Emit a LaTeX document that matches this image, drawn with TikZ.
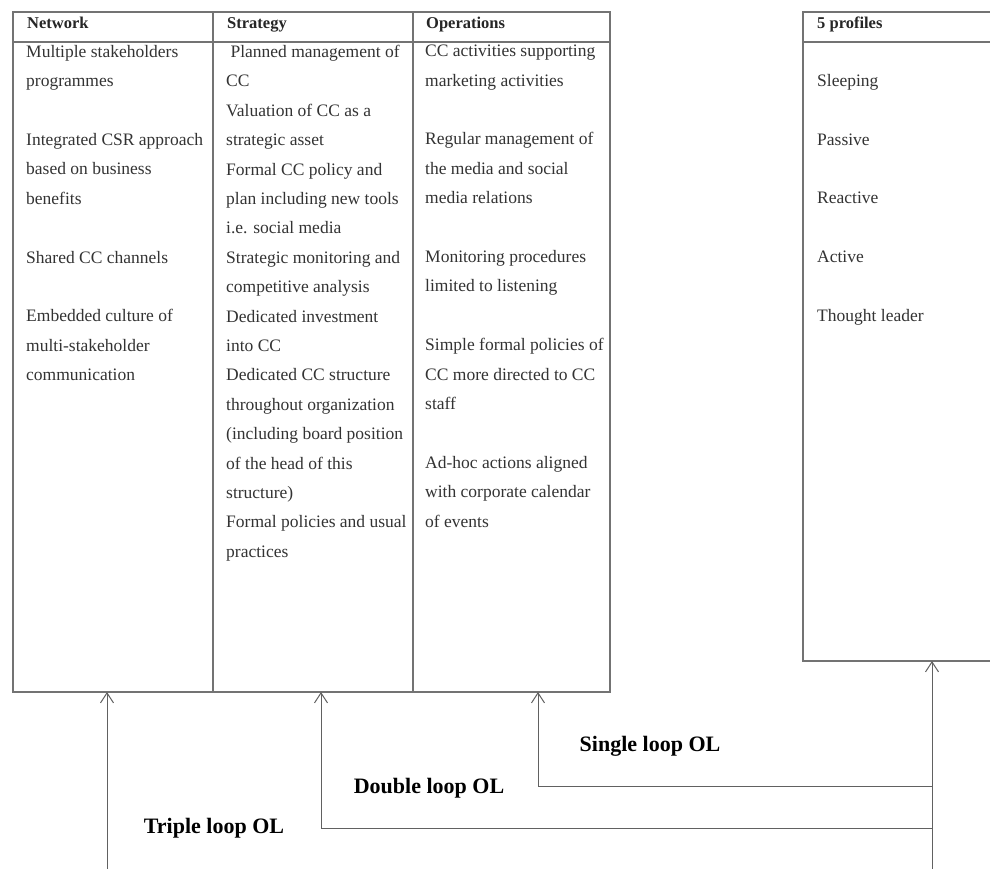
\documentclass[tikz,border=0pt]{standalone}
\usepackage{fontspec}
\setmainfont{Liberation Serif}
\usetikzlibrary{arrows.meta}

\begin{document}
\begin{tikzpicture}[x=1pt,y=-1pt,
  frame/.style={draw=black!55, line width=1.4pt},
  cell/.style={inner sep=0pt, outer sep=0pt, anchor=north west},
  body/.style={anchor=north west, inner sep=0pt, align=left, text=black!80,
               font=\fontsize{17.5}{29.4}\selectfont},
  head/.style={anchor=base west, inner sep=0pt, text=black!85,
               font=\fontsize{16.5}{20}\selectfont\bfseries},
  loopline/.style={draw=black!62, line width=1pt},
  arr/.style={loopline, -{Straight Barb[length=10pt,width=13pt,line width=1pt]}},
  lab/.style={font=\fontsize{22}{26}\selectfont\bfseries, inner sep=0pt, text=black}
]
\useasboundingbox[fill=white] (0,0) rectangle (990,868);
\clip (0,0) rectangle (990,868);

% ---- three-column table: frame and column cells ----
\node[cell, minimum width=200pt, minimum height=650pt] (net) at (13,42) {};
\node[cell, minimum width=200pt, minimum height=650pt] (str) at (213,42) {};
\node[cell, minimum width=197pt, minimum height=650pt] (ops) at (413,42) {};
\draw[frame] (13,12) rectangle (610,692);
\draw[frame] (13,42) -- (610,42);
\draw[frame] (213,12) -- (213,692);
\draw[frame] (413,12) -- (413,692);

\node[head] (hnet) at (27,28) {Network};
\node[head] (hstr) at (227,28) {Strategy};
\node[head] (hops) at (426,28) {Operations};

\node[body] (tnet) at (26,45) {Multiple stakeholders\\
programmes\\[29.4pt]
Integrated CSR approach\\
based on business\\
benefits\\[29.4pt]
Shared CC channels\\[29.4pt]
Embedded culture of\\
multi-stakeholder\\
communication};

\node[body] (tstr) at (226,45) {\ Planned management of\\
CC\\
Valuation of CC as a\\
strategic asset\\
Formal CC policy and\\
plan including new tools\\
i.e. social media\\
Strategic monitoring and\\
competitive analysis\\
Dedicated investment\\
into CC\\
Dedicated CC structure\\
throughout organization\\
(including board position\\
of the head of this\\
structure)\\
Formal policies and usual\\
practices};

\node[body] (tops) at (425,45) {CC activities supporting\\
marketing activities\\[29.4pt]
Regular management of\\
the media and social\\
media relations\\[29.4pt]
Monitoring procedures\\
limited to listening\\[29.4pt]
Simple formal policies of\\
CC more directed to CC\\
staff\\[29.4pt]
Ad-hoc actions aligned\\
with corporate calendar\\
of events};

% ---- profiles box ----
\node[cell, minimum width=200pt, minimum height=649pt] (prof) at (803,12) {};
\draw[frame] (803,12) rectangle (1000,661);
\draw[frame] (803,42) -- (1000,42);
\node[head] (hprof) at (817,28) {5 profiles};
\node[body] (tprof) at (817,74) {Sleeping\\[29.4pt]
Passive\\[29.4pt]
Reactive\\[29.4pt]
Active\\[29.4pt]
Thought leader};

% ---- learning loops ----
\coordinate (trunk) at (932,880);
\coordinate (sR) at (932,786);
\coordinate (dR) at (932,828);
\coordinate (sL) at (538,786);
\coordinate (dL) at (321,828);
\coordinate (tL) at (107,880);

\draw[arr] (trunk) -- (trunk |- prof.south);
\draw[loopline] (sR) -- (sL);
\draw[arr] (sL) -- (sL |- ops.south);
\draw[loopline] (dR) -- (dL);
\draw[arr] (dL) -- (dL |- str.south);
\draw[loopline] (trunk) -- (tL);
\draw[arr] (tL) -- (tL |- net.south);

\node[lab] (lsingle) at (650,746) {Single loop OL};
\node[lab] (ldouble) at (429,788) {Double loop OL};
\node[lab] (ltriple) at (214,828) {Triple loop OL};
\end{tikzpicture}
\end{document}
